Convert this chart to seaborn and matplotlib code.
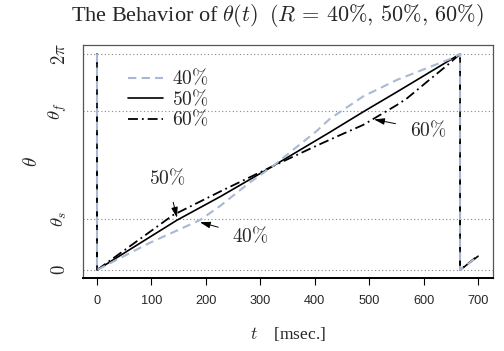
import numpy as np
import pandas as pd
import seaborn as sns
import matplotlib.pyplot as plt

TWO_PI = 2 * np.pi
THETA_S = np.deg2rad(85)
THETA_F = np.deg2rad(265)

# theta(t), one cycle of ~667 ms plus the start of the next
t_40 = [0, 0, 97, 189, 226, 281, 323, 404, 428, 489, 551, 612, 654, 667, 667, 700]
th_40 = [TWO_PI, 0, 0.79, 1.45, 1.86, 2.55, 3.02, 4.05, 4.40, 5.05, 5.53, 5.91, 6.17, TWO_PI, 0, 0.40]

t_50 = [0, 0, 147, 226, 323, 428, 489, 551, 612, 667, 667, 700]
th_50 = [TWO_PI, 0, 1.45, 2.13, 3.02, 4.01, 4.60, 5.18, 5.76, TWO_PI, 0, 0.40]

t_60 = [0, 0, 140, 226, 281, 323, 404, 446, 489, 551, 570, 612, 643, 667, 667, 700]
th_60 = [TWO_PI, 0, 1.60, 2.28, 2.70, 3.02, 3.62, 3.92, 4.22, 4.80, 5.00, 5.55, 5.95, TWO_PI, 0, 0.42]

x_ticks = [0, 100, 200, 300, 400, 500, 600, 700]
y_ticks = [0, THETA_S, THETA_F, TWO_PI]
y_tick_labels = [r'$0$', r'$\theta_s$', r'$\theta_f$', r'$2\pi$']

sns.set_style('white')
plt.rcParams['mathtext.fontset'] = 'cm'
plt.rcParams['font.family'] = ['Liberation Serif', 'DejaVu Serif']

fig = plt.figure(figsize=(5.04, 3.51), dpi=100)
ax = fig.add_axes([83 / 504, 73 / 351, 410 / 504, 233 / 351])

for y in y_ticks:
    ax.axhline(y, color='#888888', lw=0.8, ls=(0, (1, 2.2)), zorder=0)

df50 = pd.DataFrame({'t': t_50, 'theta': th_50})
df60 = pd.DataFrame({'t': t_60, 'theta': th_60})
df40 = pd.DataFrame({'t': t_40, 'theta': th_40})

sns.lineplot(data=df50, x='t', y='theta', sort=False, estimator=None, ax=ax,
             color='black', lw=1.2, label='50%')
sns.lineplot(data=df60, x='t', y='theta', sort=False, estimator=None, ax=ax,
             color='black', lw=1.3, label='60%')
sns.lineplot(data=df40, x='t', y='theta', sort=False, estimator=None, ax=ax,
             color='#a9b8d4', lw=1.5, label='40%')
lines = ax.get_lines()[-3:]
lines[1].set_dashes((5.5, 2.2, 1, 2.2))
lines[2].set_dashes((4, 2.5))

# legend in the order 40, 50, 60
handles = [lines[2], lines[0], lines[1]]
ax.legend(handles, [r'$40\%$', r'$50\%$', r'$60\%$'], loc='upper left',
          bbox_to_anchor=(128 / 504, (351 - 68) / 351), bbox_transform=fig.transFigure,
          frameon=False, fontsize=14, handlelength=1.8, handletextpad=0.45,
          labelspacing=0.0, borderpad=0, borderaxespad=0)

arrow = dict(arrowstyle='-|>,head_length=0.45,head_width=0.14', color='black', lw=0.7,
             shrinkA=8, shrinkB=0)
ax.annotate(r'$50\%$', xy=(147, 1.52), xytext=(129, 2.68), ha='center', va='center',
            fontsize=14, arrowprops=arrow)
ax.annotate(r'$40\%$', xy=(189, 1.39), xytext=(282, 0.99), ha='center', va='center',
            fontsize=14, arrowprops=arrow)
ax.annotate(r'$60\%$', xy=(509, 4.38), xytext=(608, 4.07), ha='center', va='center',
            fontsize=14, arrowprops=arrow)

ax.set_xlim(-25.7, 727.5)
ax.set_ylim(-0.233, 6.545)
ax.set_xticks(x_ticks)
ax.set_xticklabels([str(v) for v in x_ticks], family='Liberation Sans', fontsize=9.2)
ax.set_yticks(y_ticks)
ax.set_yticklabels(y_tick_labels, rotation=90, va='center', fontsize=13.5)
ax.tick_params(axis='x', length=5, width=0.8, color='black', pad=7, direction='out', bottom=True)
ax.tick_params(axis='y', length=0, pad=10)

for s in ax.spines.values():
    s.set_color('#555555')
    s.set_linewidth(0.9)
ax.spines['bottom'].set_color('black')
ax.spines['bottom'].set_linewidth(1.4)

ax.set_xlabel(r'$t$    [msec.]', fontsize=12.5, labelpad=13)
ax.set_ylabel(r'$\theta$', fontsize=14, labelpad=4)
fig.suptitle(r'The Behavior of $\theta(t)$  $(R\,=\,40\%,\,50\%,\,60\%)$', x=0.55, y=0.995,
             va='top', fontsize=16)

fig.savefig('out.png', dpi=100)
